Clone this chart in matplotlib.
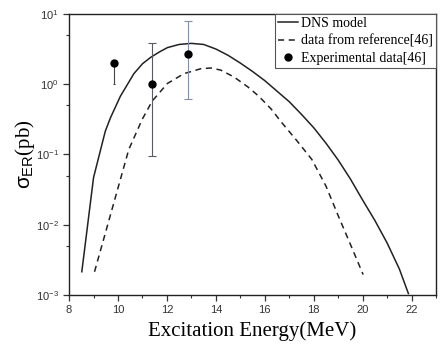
import numpy as np
import matplotlib.pyplot as plt
from matplotlib.ticker import LogLocator, MultipleLocator, NullFormatter

plt.rcParams['font.family'] = 'Liberation Sans'
plt.rcParams['mathtext.fontset'] = 'custom'
plt.rcParams['mathtext.rm'] = 'Liberation Sans'
plt.rcParams['mathtext.it'] = 'Liberation Sans'

# DNS model curve (log10 of sigma)
dns_x = [8.52, 9.0, 9.48, 9.69, 10.1, 10.65, 11.0, 11.33, 11.7, 12.02, 12.5, 13.0, 13.5,
         14.0, 14.5, 15.0, 15.5, 16.0, 16.5, 17.0, 17.5, 18.0, 18.5, 19.0, 19.5, 20.0,
         20.5, 21.0, 21.5, 21.87]
dns_log = [-2.67, -1.33, -0.67, -0.48, -0.17, 0.15, 0.29, 0.38, 0.46, 0.52, 0.565, 0.58,
           0.565, 0.50, 0.41, 0.30, 0.18, 0.05, -0.10, -0.25, -0.43, -0.62, -0.84, -1.08,
           -1.35, -1.65, -1.94, -2.26, -2.63, -2.98]

# data from reference[46]
ref_x = [9.04, 10.44, 10.99, 11.4, 12.02, 12.7, 13.39, 13.8, 14.2, 14.75, 15.31, 15.75,
         16.25, 16.7, 17.3, 17.92, 18.5, 19.01, 19.5, 20.02]
ref_log = [-2.67, -0.93, -0.50, -0.24, 0.01, 0.15, 0.22, 0.23, 0.20, 0.10, -0.04, -0.17,
           -0.35, -0.55, -0.80, -1.07, -1.45, -1.88, -2.28, -2.71]

# experimental data[46]
exp_x = [9.85, 11.37, 12.86]
exp_y = [2.0, 1.0, 2.7]
exp_lo = [1.0, 0.095, 0.61]
exp_hi = [2.0, 3.9, 7.9]
bar_colors = ['#444444', '#5a5a66', '#8090a8']
bar_caps = [1, 3, 3]

fig = plt.figure(figsize=(4.4, 3.47), dpi=100)
ax = fig.add_axes([0.157, 0.150, 0.834, 0.810])

ax.plot(dns_x, 10 ** np.array(dns_log), color='#222222', lw=1.1, label='DNS model')
ax.plot(ref_x, 10 ** np.array(ref_log), color='#222222', lw=1.1, ls=(0, (4, 3)),
        label='data from reference[46]')

for x, y, lo, hi, c, cs in zip(exp_x, exp_y, exp_lo, exp_hi, bar_colors, bar_caps):
    ax.errorbar([x], [y], yerr=[[y - lo], [hi - y]], fmt='none', ecolor=c,
                elinewidth=0.8, capsize=cs, capthick=0.8)
ax.plot(exp_x, exp_y, 'o', color='black', ms=5, ls='none', label='Experimental data[46]')

ax.set_yscale('log')
ax.set_xlim(8, 23)
ax.set_ylim(1e-3, 10)
ax.xaxis.set_major_locator(MultipleLocator(2))
ax.xaxis.set_minor_locator(MultipleLocator(1))
ax.yaxis.set_major_locator(LogLocator(base=10, numticks=10))
ax.yaxis.set_minor_locator(LogLocator(base=10, subs=(5,), numticks=10))
ax.yaxis.set_minor_formatter(NullFormatter())
ax.tick_params(which='both', direction='out', top=False, right=False, labelsize=8,
               colors='#333333')
ax.tick_params(which='major', length=4, width=0.9)
ax.tick_params(which='minor', length=2, width=0.8)
for s in ax.spines.values():
    s.set_linewidth(1.0)
    s.set_color('#222222')

ax.set_xlabel('Excitation Energy(MeV)', family='Liberation Serif', fontsize=15,
              labelpad=4)
ax.set_ylabel(r'$\sigma_{\rm ER}$(pb)', family='Liberation Serif', fontsize=15,
              labelpad=-1)

leg = ax.legend(loc='upper right', borderaxespad=0, fancybox=False, framealpha=1,
                edgecolor='#555555', prop={'family': 'Liberation Serif', 'size': 10},
                handlelength=1.4, handletextpad=0.2, labelspacing=0.3,
                borderpad=0.25)
leg.get_frame().set_linewidth(0.8)

fig.savefig('out.png', dpi=100)
